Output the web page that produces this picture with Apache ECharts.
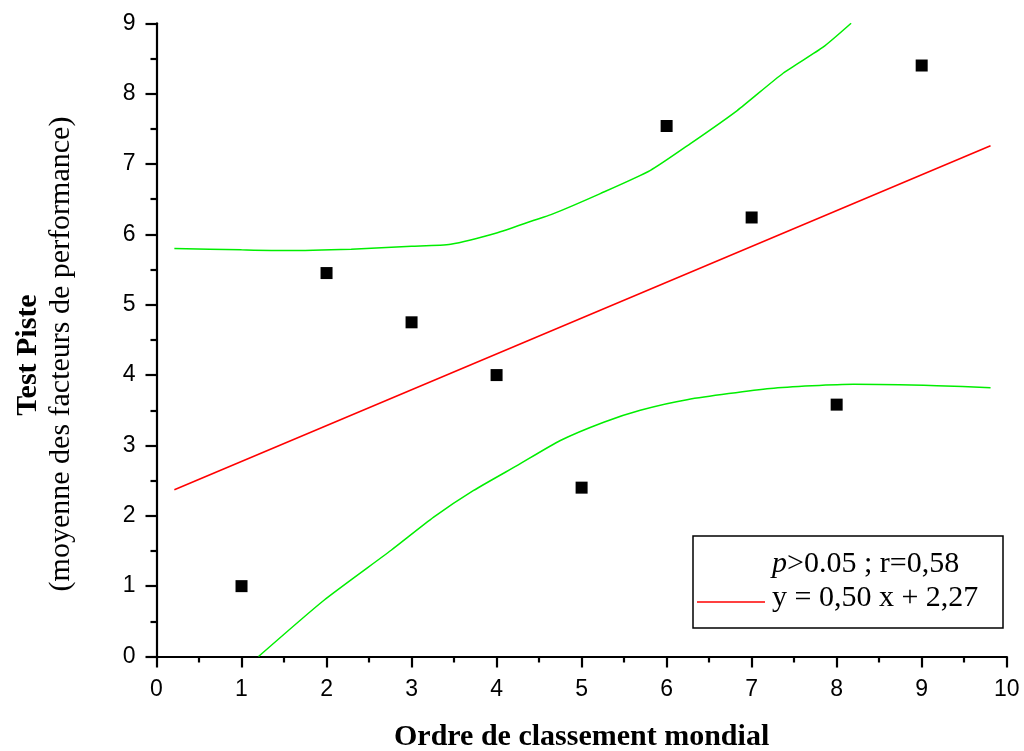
<!DOCTYPE html>
<html>
<head>
<meta charset="utf-8">
<script src="https://cdn.jsdelivr.net/npm/echarts@6/dist/echarts.min.js"></script>
<style>
html,body{margin:0;padding:0;background:#fff;}
#chart{width:1024px;height:751px;}
</style>
</head>
<body>
<div id="chart"></div>
<script>
// Data
const rankX = [1, 2, 3, 4, 5, 6, 7, 8, 9];
const pisteY = [1.0, 5.45, 4.75, 4.0, 2.40, 7.54, 6.24, 3.58, 8.40];

const fitX = [0.21, 9.81];
const fitY = [2.37, 7.26];

const upperX = [0.21, 1.0, 1.5, 2.29, 3.0, 3.46, 4.0, 4.44, 4.64, 5.22, 5.81, 6.28, 6.83, 7.37, 7.84, 8.17];
const upperY = [5.80, 5.78, 5.77, 5.79, 5.83, 5.86, 6.02, 6.20, 6.28, 6.58, 6.91, 7.29, 7.76, 8.29, 8.66, 9.0];

const lowerX = [1.20, 1.97, 2.76, 3.26, 3.73, 4.25, 4.75, 5.26, 5.69, 6.24, 7.22, 8.2, 9.18, 9.81];
const lowerY = [0.0, 0.80, 1.51, 1.98, 2.36, 2.72, 3.07, 3.33, 3.50, 3.65, 3.81, 3.87, 3.85, 3.82];

const xTitle = 'Ordre de classement mondial';
const yTitle1 = 'Test Piste';
const yTitle2 = '(moyenne des facteurs de performance)';
const legendLine1a = 'p';
const legendLine1b = '>0.05 ; r=0,58';
const legendLine2 = 'y = 0,50 x + 2,27';

const zip = (xs, ys) => xs.map((x, i) => [x, ys[i]]);

const chart = echarts.init(document.getElementById('chart'));
const axisCommon = {
  type: 'value',
  axisLine: { show: true, lineStyle: { color: '#000', width: 2.2 } },
  axisTick: { show: true, inside: false, length: 11, lineStyle: { color: '#000', width: 2.2 } },
  minorTick: { show: true, splitNumber: 2, length: 6, lineStyle: { color: '#000', width: 2.2 } },
  splitLine: { show: false },
  axisLabel: { color: '#000', fontFamily: 'Liberation Sans', fontSize: 23 }
};
chart.setOption({
  animation: false,
  backgroundColor: '#fff',
  grid: { left: 156.5, right: 17.3, top: 23.3, bottom: 94.5, containLabel: false, outerBoundsMode: 'none' },
  xAxis: Object.assign({}, axisCommon, {
    min: 0, max: 10, interval: 1,
    axisLabel: Object.assign({}, axisCommon.axisLabel, { margin: 22 }),
    name: xTitle, nameLocation: 'middle', nameGap: 66,
    nameTextStyle: { color: '#000', fontFamily: 'Liberation Serif', fontWeight: 'bold', fontSize: 30 }
  }),
  yAxis: Object.assign({}, axisCommon, {
    min: 0, max: 9, interval: 1,
    axisLabel: Object.assign({}, axisCommon.axisLabel, { margin: 21 })
  }),
  series: [
    {
      type: 'line', data: zip(upperX, upperY), smooth: 0.2, symbol: 'none',
      lineStyle: { color: '#00ee00', width: 1.5 }, z: 2
    },
    {
      type: 'line', data: zip(lowerX, lowerY), smooth: 0.2, symbol: 'none',
      lineStyle: { color: '#00ee00', width: 1.5 }, z: 2
    },
    {
      type: 'line', data: zip(fitX, fitY), symbol: 'none',
      lineStyle: { color: '#ff0000', width: 1.5 }, z: 3
    },
    {
      type: 'scatter', data: zip(rankX, pisteY), symbol: 'rect', symbolSize: 12,
      itemStyle: { color: '#000', opacity: 1 }, z: 4
    }
  ],
  graphic: [
    {
      type: 'text', x: 28, y: 355, rotation: Math.PI / 2,
      style: { text: yTitle1, fill: '#000', fontFamily: 'Liberation Serif', fontWeight: 'bold', fontSize: 30, align: 'center', verticalAlign: 'middle' }
    },
    {
      type: 'text', x: 61, y: 354, rotation: Math.PI / 2,
      style: { text: yTitle2, fill: '#000', fontFamily: 'Liberation Serif', fontSize: 30, align: 'center', verticalAlign: 'middle' }
    },
    {
      type: 'rect', shape: { x: 693, y: 536, width: 310, height: 92 },
      style: { fill: '#fff', stroke: '#000', lineWidth: 1.5 }, z: 10
    },
    {
      type: 'line', shape: { x1: 697, y1: 602, x2: 765, y2: 602 },
      style: { stroke: '#ff0000', lineWidth: 1.5 }, z: 11
    },
    {
      type: 'text', x: 772, y: 564, z: 11,
      style: {
        text: '{i|' + legendLine1a + '}{n|' + legendLine1b + '}',
        verticalAlign: 'middle', align: 'left',
        rich: {
          i: { fontFamily: 'Liberation Serif', fontStyle: 'italic', fontSize: 30, fill: '#000' },
          n: { fontFamily: 'Liberation Serif', fontSize: 30, fill: '#000' }
        }
      }
    },
    {
      type: 'text', x: 772, y: 598, z: 11,
      style: { text: legendLine2, fill: '#000', fontFamily: 'Liberation Serif', fontSize: 30, align: 'left', verticalAlign: 'middle' }
    }
  ]
});
</script>
</body>
</html>
